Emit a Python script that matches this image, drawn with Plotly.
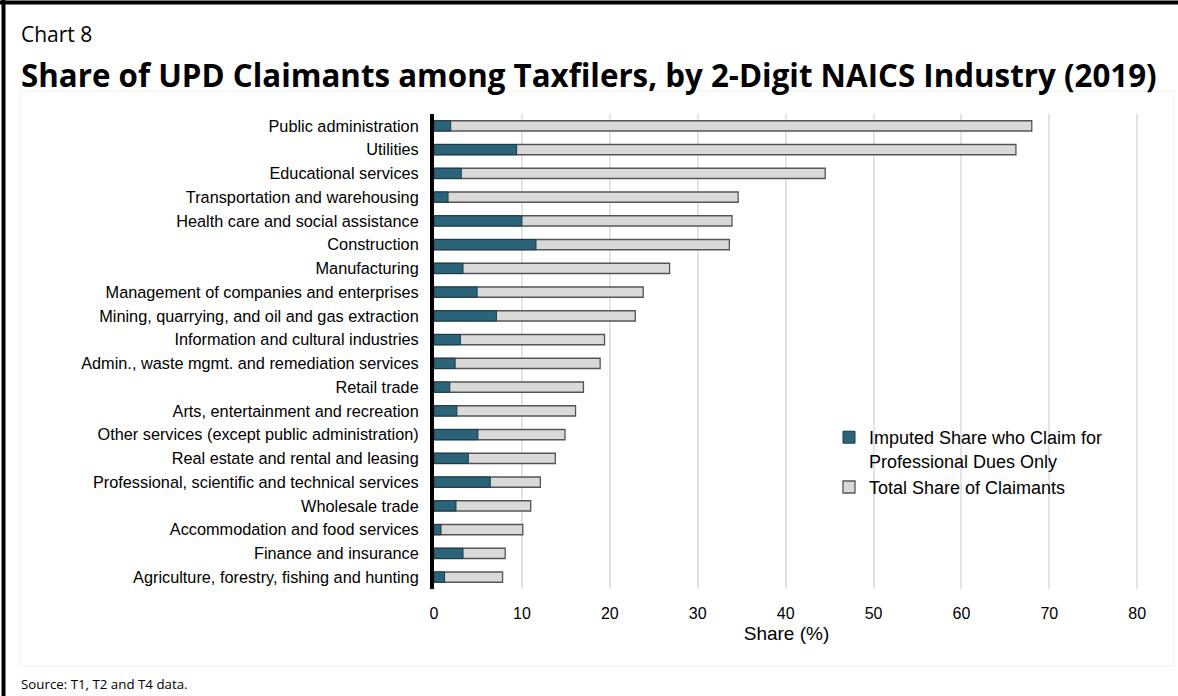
import plotly.graph_objects as go

# Industries, listed top to bottom as drawn
industries = [
    "Public administration",
    "Utilities",
    "Educational services",
    "Transportation and warehousing",
    "Health care and social assistance",
    "Construction",
    "Manufacturing",
    "Management of companies and enterprises",
    "Mining, quarrying, and oil and gas extraction",
    "Information and cultural industries",
    "Admin., waste mgmt. and remediation services",
    "Retail trade",
    "Arts, entertainment and recreation",
    "Other services (except public administration)",
    "Real estate and rental and leasing",
    "Professional, scientific and technical services",
    "Wholesale trade",
    "Accommodation and food services",
    "Finance and insurance",
    "Agriculture, forestry, fishing and hunting",
]

# Share (%) of taxfilers claiming union/professional dues
total_share = [68.0, 66.2, 44.5, 34.6, 33.9, 33.6, 26.8, 23.8, 22.9, 19.4,
               18.9, 17.0, 16.1, 14.9, 13.8, 12.1, 11.0, 10.1, 8.1, 7.8]
professional_only = [1.9, 9.4, 3.1, 1.6, 10.0, 11.6, 3.3, 4.9, 7.1, 3.0,
                     2.4, 1.8, 2.6, 5.0, 3.9, 6.4, 2.5, 0.8, 3.3, 1.2]

x_ticks = [0, 10, 20, 30, 40, 50, 60, 70, 80]

W, H = 1178, 696
M_L, M_R, M_T, M_B = 434, 39, 114, 107

fig = go.Figure()

fig.add_trace(go.Bar(
    y=industries, x=total_share, orientation="h",
    name="Total Share of Claimants",
    marker=dict(color="#d9d9d9", line=dict(color="#555555", width=1.3)),
    legendrank=2,
))
fig.add_trace(go.Bar(
    y=industries, x=professional_only, orientation="h",
    name="Imputed Share who Claim for<br>Professional Dues Only",
    marker=dict(color="#2b6479", line=dict(color="#183c49", width=1)),
    legendrank=1,
))


def px_x(px):
    return (px - M_L) / (W - M_L - M_R)


def px_y(py):
    return 1 - (py - M_T) / (H - M_T - M_B)


fig.update_layout(
    width=W, height=H,
    margin=dict(l=M_L, r=M_R, t=M_T, b=M_B),
    paper_bgcolor="white", plot_bgcolor="white",
    barmode="overlay", bargap=0.57,
    font=dict(family="Liberation Sans, Arial, sans-serif", size=16, color="#000000"),
    xaxis=dict(
        range=[0, 80.2], tickvals=x_ticks, ticktext=[str(v) for v in x_ticks],
        showgrid=True, gridcolor="#e4e4e4", gridwidth=1.5,
        zeroline=False, showline=False,
        ticks="outside", ticklen=10, tickcolor="rgba(0,0,0,0)",
        tickfont=dict(size=16),
        title=dict(text="Share (%)", font=dict(size=19), standoff=5),
    ),
    yaxis=dict(
        categoryorder="array", categoryarray=industries[::-1],
        showgrid=False, zeroline=False,
        showline=True, linecolor="#000000", linewidth=4,
        ticks="outside", ticklen=8, tickcolor="rgba(0,0,0,0)",
        tickfont=dict(size=16.3),
    ),
    legend=dict(
        x=px_x(829), y=px_y(419), xanchor="left", yanchor="top",
        bgcolor="rgba(0,0,0,0)", font=dict(size=18),
        valign="top", tracegroupgap=7,
    ),
    showlegend=True,
)

# Titles and source note
fig.add_annotation(
    text="Chart 8", xref="paper", yref="paper",
    x=px_x(19), y=px_y(34), xanchor="left", yanchor="middle",
    showarrow=False, font=dict(family="Open Sans, Noto Sans, sans-serif", size=21),
)
fig.add_annotation(
    text="<b>Share of UPD Claimants among Taxfilers, by 2-Digit NAICS Industry (2019)</b>",
    xref="paper", yref="paper",
    x=px_x(19), y=px_y(75), xanchor="left", yanchor="middle",
    showarrow=False, font=dict(family="Open Sans, Noto Sans, sans-serif", size=31.3),
)
fig.add_annotation(
    text="Source: T1, T2 and T4 data.", xref="paper", yref="paper",
    x=px_x(19), y=px_y(684), xanchor="left", yanchor="middle",
    showarrow=False, font=dict(family="Open Sans, Noto Sans, sans-serif", size=13.3),
)

# Faint panel outline and the outer frame lines (top and left)
fig.add_shape(type="rect", xref="paper", yref="paper",
              x0=px_x(20), x1=px_x(1174), y0=px_y(91), y1=px_y(666),
              line=dict(color="#f0f0f0", width=1), layer="below")
fig.add_shape(type="line", xref="paper", yref="paper",
              x0=px_x(0), x1=px_x(1178), y0=px_y(2.5), y1=px_y(2.5),
              line=dict(color="#000000", width=4))
fig.add_shape(type="line", xref="paper", yref="paper",
              x0=px_x(3.5), x1=px_x(3.5), y0=px_y(0), y1=px_y(696),
              line=dict(color="#000000", width=4))

fig.write_html("out.html")
